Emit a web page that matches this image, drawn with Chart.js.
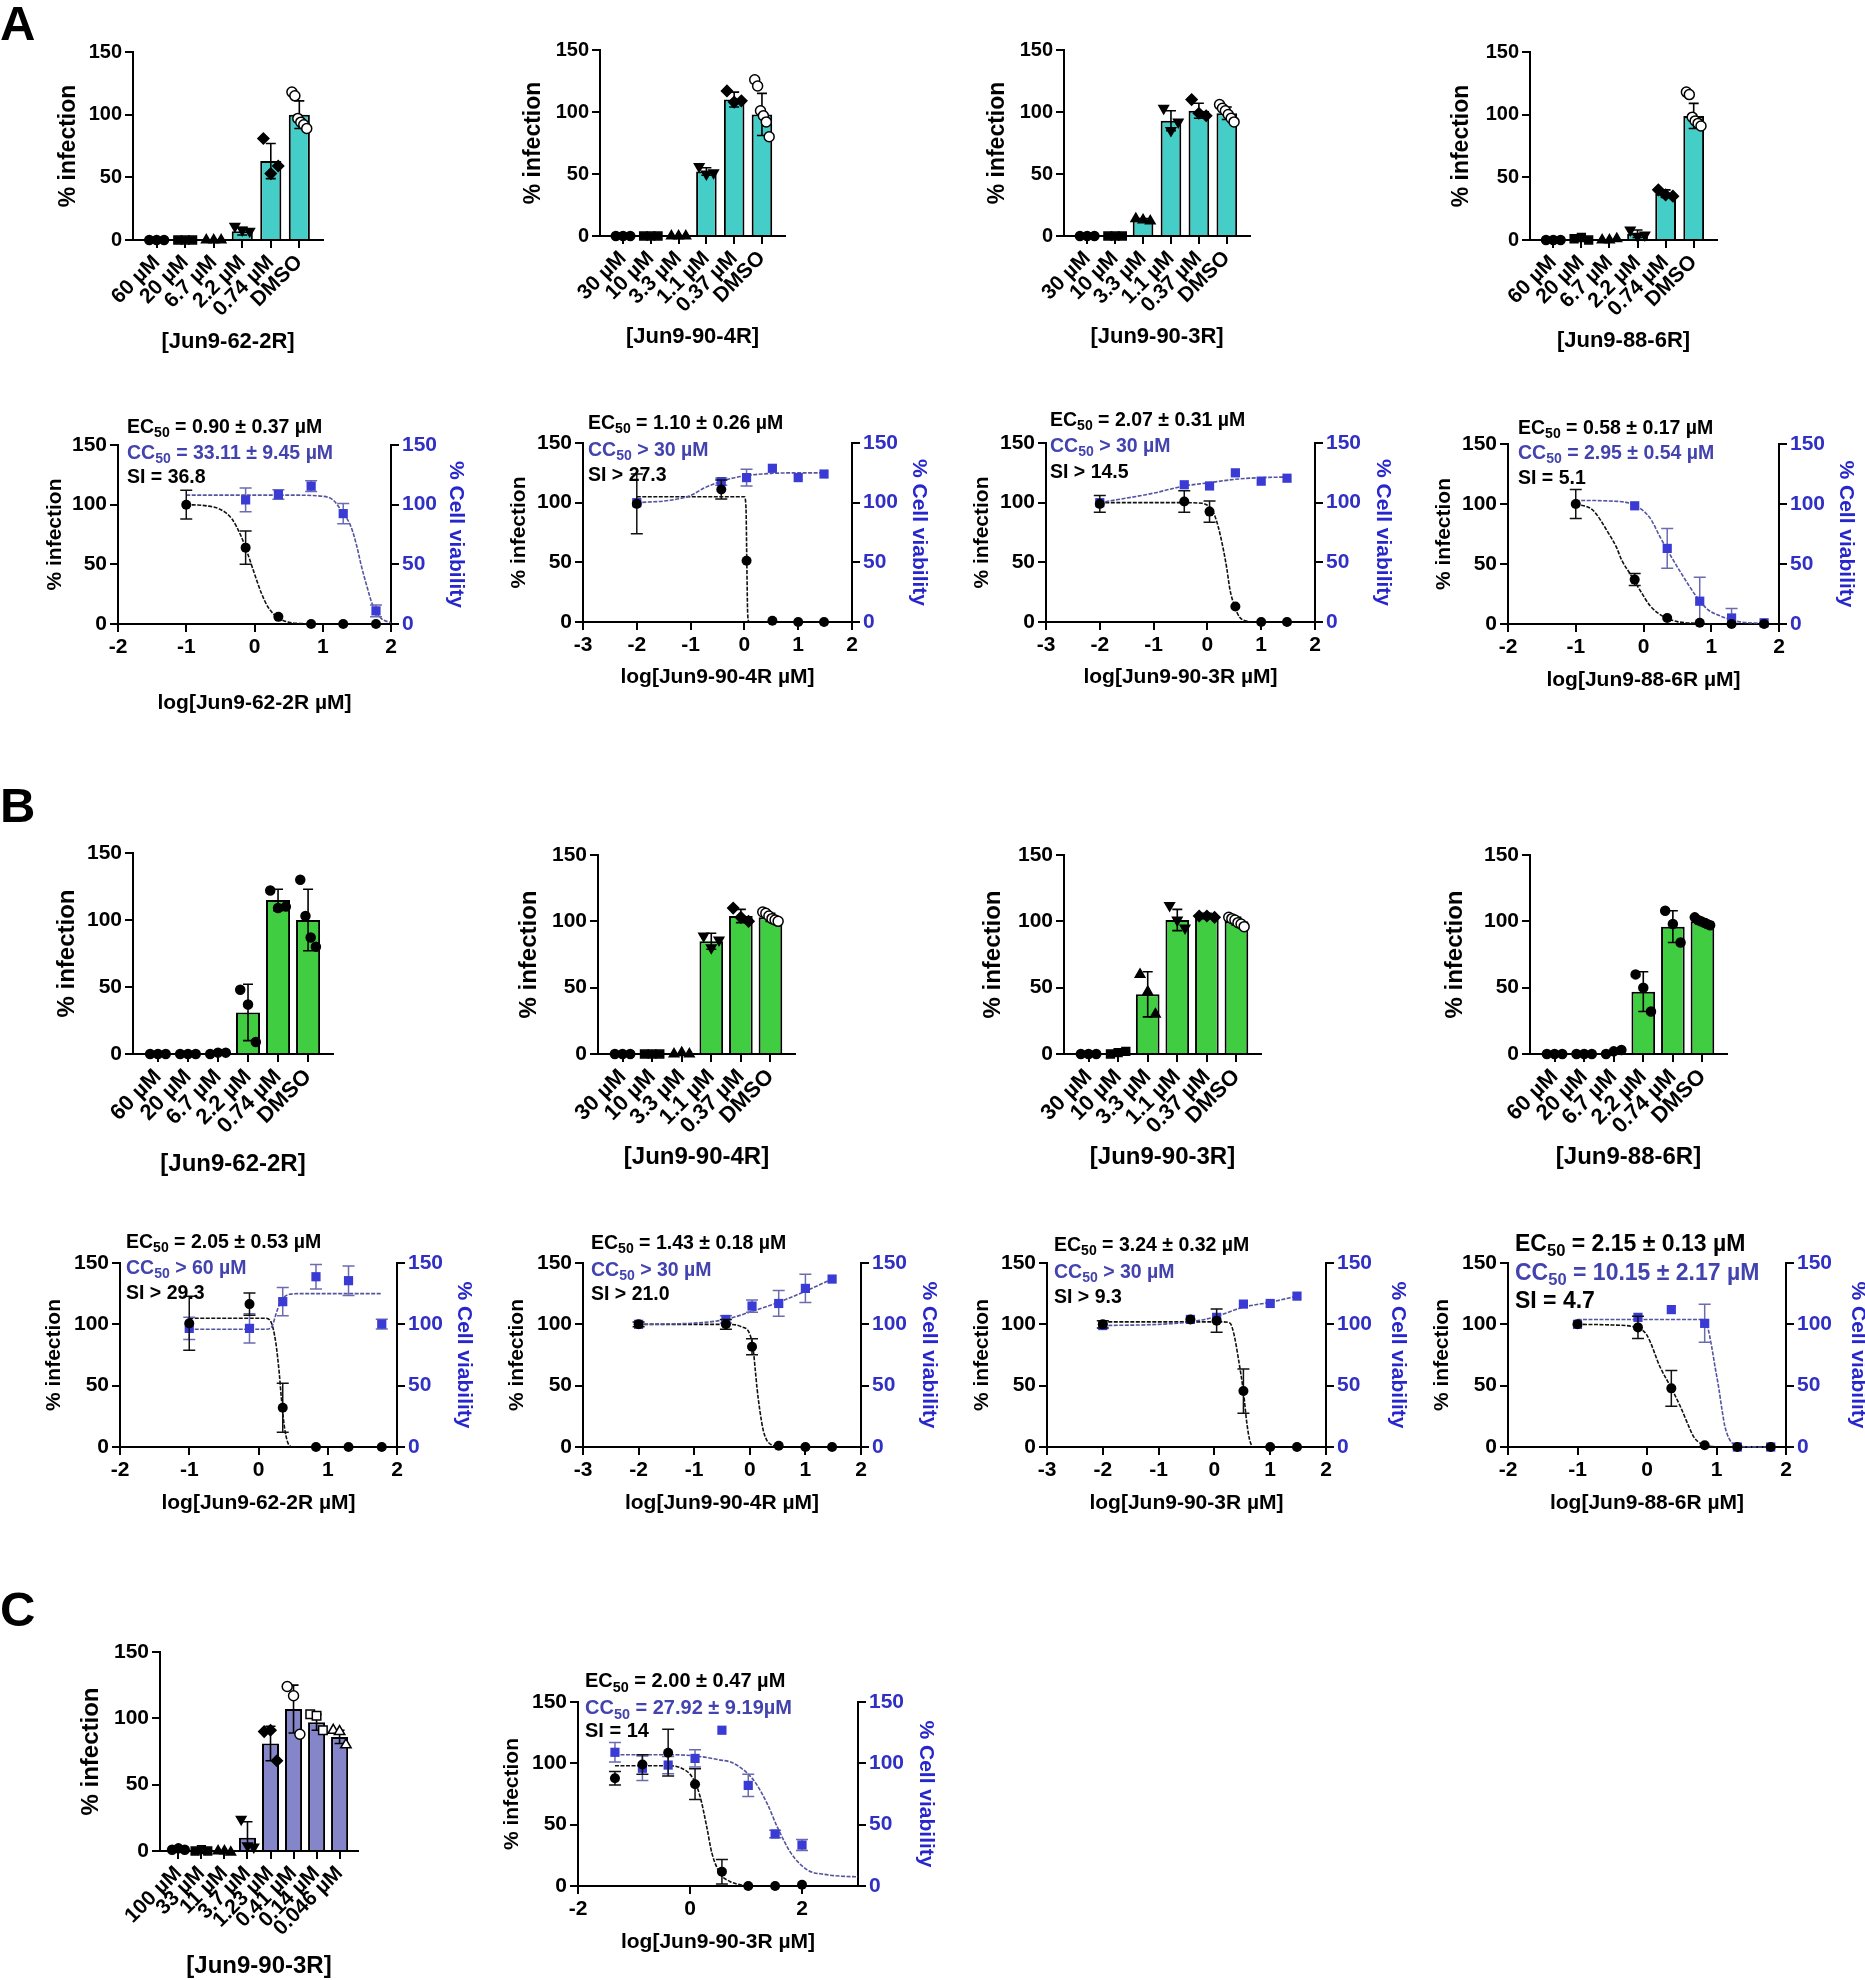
<!DOCTYPE html>
<html><head><meta charset="utf-8">
<script src="https://cdn.jsdelivr.net/npm/chart.js@4"></script>
<style>
body{margin:0;background:#fff;width:1865px;height:1980px;position:relative;overflow:hidden;font-family:"Liberation Sans",Arial,Helvetica,sans-serif;}
canvas{position:absolute;}
.t{position:absolute;white-space:nowrap;font-weight:bold;line-height:1;color:#000;}
.t.blue{color:#4343b0;}
.t sub{font-size:0.72em;vertical-align:-0.32em;line-height:0;}
.letter{position:absolute;font-weight:bold;font-size:49px;line-height:1;}
</style></head><body>
<script>
// ================= DATA =================
const catsA60 = ['60 µM','20 µM','6.7 µM','2.2 µM','0.74 µM','DMSO'];
const catsA30 = ['30 µM','10 µM','3.3 µM','1.1 µM','0.37 µM','DMSO'];
const catsC = ['100 µM','33 µM','11 µM','3.7 µM','1.23 µM','0.41 µM','0.14 µM','0.046 µM'];

const barTitles = ['[Jun9-62-2R]','[Jun9-90-4R]','[Jun9-90-3R]','[Jun9-88-6R]'];
const barTitleC = '[Jun9-90-3R]';
const doseTitles = ['log[Jun9-62-2R µM]','log[Jun9-90-4R µM]','log[Jun9-90-3R µM]','log[Jun9-88-6R µM]'];
const doseTitleC = 'log[Jun9-90-3R µM]';
const yTitleInf = '% infection';
const yTitleVia = '% Cell viability';
const panelLetters = ['A','B','C'];

// bar charts: means, SD, replicate points
const a1Mean = [0,0,0,7,63,100];
const a1Sd   = [0,0,0,3,14,11];
const a1Pts  = [[0,0,0],[0,0,0],[0,0,0],[11,8,7],[81,53,59],[118,115,97,94,92,89]];
const a2Mean = [0,0,0,52,110,98];
const a2Sd   = [0,0,0,3,6,17];
const a2Pts  = [[0,0,0],[0,0,0],[0,0,0],[56,50,51],[117,108,109],[126,121,101,97,92,80]];
const a3Mean = [0,0,13,93,101,99];
const a3Sd   = [0,0,1,8,6,5];
const a3Pts  = [[0,0,0],[0,0,0],[14,13,12],[103,85,92],[110,99,97],[106,103,101,98,95,92]];
const a4Mean = [0,0,0,5,37,99];
const a4Sd   = [0,0,0,3,3,10];
const a4Pts  = [[0,0,0],[1,2,0],[0,0,1],[8,3,4],[40,36,35],[118,116,98,95,93,91]];
const b1Mean = [0,0,0,31,115,100];
const b1Sd   = [0,0,0,21,8,23];
const b1Pts  = [[0,0,0],[0,0,0],[0,1,1],[48,37,9],[122,109,110],[130,103,87,80]];
const b2Mean = [0,0,0,85,104,103];
const b2Sd   = [0,0,0,6,5,3];
const b2Pts  = [[0,0,0],[0,0,0],[0,1,0],[89,80,86],[110,103,100],[107,106,104,102,101,100]];
const b3Mean = [0,1,45,101,104,100];
const b3Sd   = [0,0,17,8,2,3];
const b3Pts  = [[0,0,0],[0,1,2],[60,47,30],[112,101,95],[104,104,103],[103,102,101,99,98,96]];
const b4Mean = [0,0,1,47,96,100];
const b4Sd   = [0,0,1,15,12,2];
const b4Pts  = [[0,0,0],[0,0,0],[0,2,3],[60,50,32],[108,98,84],[103,101,100,99,98,97]];
const cMean  = [1,0.5,0,10,81,107,97,86];
const cSd    = [1,0.5,0,12,13,18,6,5];
const cPts   = [[1,2,1],[0,1,0],[0,0,-1],[24,4,3],[90,91,68],[124,117,88],[103,102,91],[91,90,80]];

const marksA = ['circle','square','tri','triDown','diamond','oCircle'];
const marksB1 = ['circle','circle','circle','circle','circle','circle'];
const marksC = ['circle','square','tri','triDown','diamond','oCircle','oSquare','oTri'];

// dose-response: log concentrations
const logA60 = [-1,-0.13,0.35,0.83,1.3,1.78];
const logA30 = [-2,-0.43,0.04,0.52,1.0,1.48];
const logA60via = [-0.13,0.35,0.83,1.3,1.78];
const logC = [-1.34,-0.85,-0.39,0.09,0.57,1.04,1.52,2.0];

const dA1InfY = [100,64,6,0,0,0];      const dA1InfSd = [12,14,0,0,0,0];
const dA1ViaY = [104,108.5,115.5,92.5,11]; const dA1ViaSd = [10,4,4.5,8.5,5];
const dA1InfCurve = [[-1,100],[-0.7,99],[-0.5,96],[-0.33,88],[-0.2,74],[-0.1,59],[0,42],[0.1,26],[0.2,14],[0.35,5],[0.5,1.5],[0.7,0.3],[0.9,0]];
const dA1ViaCurve = [[-1,108],[0.5,108],[1.0,107],[1.15,104],[1.26,96],[1.41,82],[1.5,65],[1.56,50],[1.65,31],[1.73,16],[1.85,5],[2.0,1]];

const dA2InfY = [99,111,51.4,1,0,0];   const dA2InfSd = [25,8,0,0,0,0];
const dA2ViaY = [100,117.6,121,128.8,121,124]; const dA2ViaSd = [0,3,7,0,0,0];
const dA2InfCurve = [[-2,105],[0,105],[0.03,95],[0.045,50],[0.06,8],[0.08,0]];
const dA2ViaCurve = [[-2,100],[-1.38,102],[-1,106],[-0.76,112],[-0.39,118.5],[0,122.5],[0.5,124.5],[1,125],[1.48,125]];

const dA3InfY = [99,101,92.5,13,0,0];  const dA3InfSd = [7,9,9,0,0,0];
const dA3ViaY = [100,115,114,125,118,120.5]; const dA3ViaSd = [0,0,0,0,0,0];
const dA3InfCurve = [[-2,100],[-0.5,100],[-0.1,99.5],[0.05,96],[0.11,92],[0.2,80],[0.3,60],[0.36,45],[0.42,27],[0.5,14],[0.6,4],[0.8,0]];
const dA3ViaCurve = [[-2,100],[-1,108],[-0.43,114],[0,116.5],[0.5,119.5],[1,121],[1.48,121.5]];

const dA4InfY = [100,37,5,1,0,0];      const dA4InfSd = [12,5,0,0,0,0];
const dA4ViaY = [98.5,63,19,5,1];     const dA4ViaSd = [0,16.5,20,8,0];
const dA4InfCurve = [[-1,100],[-0.75,95],[-0.52,76],[-0.4,64],[-0.32,53],[-0.2,42],[-0.05,28],[0.1,15],[0.3,6],[0.5,2],[0.8,0.5],[1.0,0]];
const dA4ViaCurve = [[-1,103],[-0.5,102.5],[-0.13,99],[0.1,88],[0.24,73],[0.4,57],[0.56,42],[0.78,23],[0.95,12],[1.12,7],[1.4,2],[1.78,0.5]];

const dB1InfY = [100.8,116.5,32,0,0,0]; const dB1InfSd = [22,9,20,0,0,0];
const dB1ViaY = [96.7,96.7,118.5,138.8,135.6,100.2]; const dB1ViaSd = [9,12,11.5,10,12,4];
const dB1InfCurve = [[-1,105],[0.1,105],[0.18,102],[0.25,85],[0.3,60],[0.33,40],[0.37,18],[0.42,4],[0.47,0]];
const dB1ViaCurve = [[-1,96],[0.12,96],[0.2,99],[0.25,108],[0.3,116],[0.35,121],[0.45,124.5],[0.6,125],[1.78,125]];

const dB2InfY = [100,100,81.7,1,0,0];  const dB2InfSd = [2,4,6.5,0,0,0];
const dB2ViaY = [100,104,114.9,117,129.3,136.9]; const dB2ViaSd = [0,3,5,10.5,11.5,0];
const dB2InfCurve = [[-2,100],[-0.4,100],[-0.15,98],[0,92],[0.06,80],[0.1,62],[0.13,48],[0.18,30],[0.24,14],[0.3,6],[0.4,1.5],[0.52,0.5]];
const dB2ViaCurve = [[-2,100],[-1,101],[-0.43,104],[0,110],[0.52,118],[1,127],[1.48,137]];

const dB3InfY = [100,104,103,45.6,0,0]; const dB3InfSd = [3,0,9.5,18,0,0];
const dB3ViaY = [99,104,105.7,116.5,117,123]; const dB3ViaSd = [0,0,0,0,0,0];
const dB3InfCurve = [[-2,102],[0.15,102],[0.28,101],[0.35,92],[0.43,72],[0.52,45],[0.58,20],[0.63,6],[0.68,0]];
const dB3ViaCurve = [[-2,99],[-1,100],[-0.43,102],[0,106],[0.52,114],[1,118],[1.48,123]];

const dB4InfY = [100,97.5,47.8,1.4,0,0]; const dB4InfSd = [0,9,14.5,0,0,0];
const dB4ViaY = [100,105.7,112,100.8,0,0]; const dB4ViaSd = [0,0,0,15.5,0,0];
const dB4InfCurve = [[-1,100],[-0.5,99.5],[-0.13,97],[0,91],[0.19,65],[0.35,48],[0.48,33],[0.6,17],[0.67,8.5],[0.8,2],[1.0,0]];
const dB4ViaCurve = [[-1,104],[0.8,104],[0.87,98],[0.93,82],[0.98,65],[1.03,49],[1.08,30],[1.12,17],[1.18,7],[1.25,2],[1.35,0.3],[1.78,0]];

const dCInfY = [87.8,99,108.7,83,11.7,0,0,1]; const dCInfSd = [5.5,8,19,12.5,10,0,0,0];
const dCViaY = [109,96,98.6,104,127,82,42.4,33.4]; const dCViaSd = [8,10,7,7,0,9,3,4.5];
const dCInfCurve = [[-1.34,98],[-0.4,98],[-0.15,96],[0.05,88],[0.18,73],[0.3,48],[0.39,27],[0.54,10],[0.7,4],[0.9,1],[1.1,0]];
const dCViaCurve = [[-1.34,107],[-0.4,107],[0.1,106],[0.5,103],[0.78,100],[1.14,86],[1.38,67],[1.56,48],[1.8,27],[2.1,13],[2.4,9.5],[2.7,8],[3.0,7.5]];

// annotation texts
const annA1 = ['EC50 = 0.90 ± 0.37 µM','CC50 = 33.11 ± 9.45 µM','SI = 36.8'];
const annA2 = ['EC50 = 1.10 ± 0.26 µM','CC50 > 30 µM','SI > 27.3'];
const annA3 = ['EC50 = 2.07 ± 0.31 µM','CC50 > 30 µM','SI > 14.5'];
const annA4 = ['EC50 = 0.58 ± 0.17 µM','CC50 = 2.95 ± 0.54 µM','SI = 5.1'];
const annB1 = ['EC50 = 2.05 ± 0.53 µM','CC50 > 60 µM','SI > 29.3'];
const annB2 = ['EC50 = 1.43 ± 0.18 µM','CC50 > 30 µM','SI > 21.0'];
const annB3 = ['EC50 = 3.24 ± 0.32 µM','CC50 > 30 µM','SI > 9.3'];
const annB4 = ['EC50 = 2.15 ± 0.13 µM','CC50 = 10.15 ± 2.17 µM','SI = 4.7'];
const annC  = ['EC50 = 2.00 ± 0.47 µM','CC50 = 27.92 ± 9.19µM','SI = 14'];

// ================= STYLE / HELPERS =================
const FONT = '"Liberation Sans", Arial, Helvetica, sans-serif';
const COL_A = '#45cdc8', COL_B = '#41cd41', COL_C = '#8585c9';
const BLUE_PT = '#3a3ad4', BLUE_TICK = '#3030c4', BLUE_TITLE = '#2626cc', BLUE_CURVE = '#55559f';
Chart.defaults.font.family = FONT;
Chart.defaults.font.weight = 'bold';
Chart.defaults.color = '#000';

const MK = {
  circle:{s:'circle',f:'#000',r:4.5,rot:0},
  square:{s:'rect',f:'#000',r:5.5,rot:0},
  tri:{s:'triangle',f:'#000',r:5.5,rot:0},
  triDown:{s:'triangle',f:'#000',r:5.5,rot:180},
  diamond:{s:'rectRot',f:'#000',r:5.5,rot:0},
  oCircle:{s:'circle',f:'#fff',r:5,rot:0},
  oSquare:{s:'rect',f:'#fff',r:6,rot:0},
  oTri:{s:'triangle',f:'#fff',r:6,rot:0}
};

const errPlugin = {
  id:'errbars',
  beforeDatasetDraw(chart, args) {
    const ds = chart.data.datasets[args.index];
    if (!ds.errBars) return;
    const xs = chart.scales.x, ys = chart.scales[ds.yAxisID || 'y'];
    const ctx = chart.ctx;
    ctx.save();
    ctx.strokeStyle = ds.errColor || '#000';
    ctx.lineWidth = ds.errWidth || 1.6;
    const c = ds.capHalf || 5;
    ds.errBars.forEach(b => {
      if (!b.e) return;
      const px = xs.getPixelForValue(b.x);
      const top = ys.getPixelForValue(b.y + b.e);
      const lo = Math.max(b.y - b.e, 0);
      const bot = ys.getPixelForValue(lo);
      ctx.beginPath();
      ctx.moveTo(px, top); ctx.lineTo(px, bot);
      ctx.moveTo(px - c, top); ctx.lineTo(px + c, top);
      if (lo > 0) { ctx.moveTo(px - c, bot); ctx.lineTo(px + c, bot); }
      ctx.stroke();
    });
    ctx.restore();
  }
};
Chart.register(errPlugin);

function mkCanvas(x, y, w, h) {
  const c = document.createElement('canvas');
  c.width = w; c.height = h;
  c.style.left = x + 'px'; c.style.top = y + 'px';
  c.style.width = w + 'px'; c.style.height = h + 'px';
  document.body.appendChild(c);
  return c;
}
function fnt(size){ return {family:FONT, size:size, weight:'bold'}; }
function gridOpts(){ return {drawOnChartArea:false, drawTicks:true, tickLength:8, color:'#000', lineWidth:2, offset:false}; }
function borderOpts(){ return {display:true, color:'#000', width:2}; }

function barChart(g, cats, mean, sd, pts, marks, color, title) {
  const lhY = g.yts * 1.2, lhX = g.xts * 1.2;
  const WL = Math.round(g.L - g.lt + lhY / 2);
  const HB = Math.round(g.bt + lhX / 2 - g.B);
  const padT = 16, padR = 12;
  const W = WL + (g.R - g.L) + padR, H = padT + (g.B - g.T) + HB;
  const cv = mkCanvas(g.L - WL, g.T - padT, W, H);
  const n = cats.length;
  const sData = [], sStyle = [], sFill = [], sRad = [], sRot = [];
  pts.forEach((arr, i) => {
    const m = MK[marks[i]];
    arr.forEach((v, j) => {
      const off = arr.length > 1 ? (j / (arr.length - 1) - 0.5) * g.spread : 0;
      sData.push({x: i + off, y: v}); sStyle.push(m.s); sFill.push(m.f); sRad.push(m.r); sRot.push(m.rot);
    });
  });
  new Chart(cv, {
    type: 'bar',
    data: {datasets: [
      {type:'bar', data: mean.map((v, i) => ({x: i, y: v})), backgroundColor: color, borderColor: '#000',
       borderWidth: 2, borderSkipped: 'start', barPercentage: g.bp, categoryPercentage: 1, order: 2},
      {type:'scatter', data: sData, pointStyle: sStyle, pointBackgroundColor: sFill, pointBorderColor: '#000',
       pointBorderWidth: 1.5, pointRadius: sRad, pointRotation: sRot, order: 1, clip: false,
       errBars: mean.map((v, i) => ({x: i, y: v, e: sd[i]})), capHalf: 5, errWidth: 1.6}
    ]},
    options: {
      responsive: false, animation: false,
      layout: {padding: {top: padT, right: padR, left: 0, bottom: 0}},
      plugins: {legend: {display: false}, tooltip: {enabled: false}},
      scales: {
        x: {type: 'linear', offset: false, min: -g.gap, max: n - 1 + g.gap,
            afterBuildTicks: s => { s.ticks = cats.map((c, i) => ({value: i})); },
            ticks: {callback: v => cats[v], minRotation: 45, maxRotation: 45, autoSkip: false,
                    font: fnt(g.lab), color: '#000', padding: 2},
            grid: gridOpts(), border: borderOpts(),
            title: {display: true, text: title, font: fnt(g.xts), color: '#000', padding: 0},
            afterFit: s => { s.height = HB; }},
        y: {type: 'linear', min: 0, max: 150,
            ticks: {stepSize: 50, font: fnt(g.ytick), color: '#000', padding: 3},
            grid: gridOpts(), border: borderOpts(),
            title: {display: true, text: yTitleInf, font: fnt(g.yts), color: '#000', padding: 0},
            afterFit: s => { s.width = WL; }}
      }
    }
  });
}

function doseChart(g, title, infX, infY, infSd, viaX, viaY, viaSd, infCurve, viaCurve) {
  const lh = g.tts * 1.2;
  const WL = Math.round(g.L - g.lt + lh / 2);
  const WR = Math.round(g.rt + lh / 2 - g.R);
  const HB = Math.round(g.bt + lh / 2 - g.B);
  const padT = 16;
  const W = WL + (g.R - g.L) + WR, H = padT + (g.B - g.T) + HB;
  const cv = mkCanvas(g.L - WL, g.T - padT, W, H);
  new Chart(cv, {
    type: 'scatter',
    data: {datasets: [
      {data: infCurve.map(p => ({x: p[0], y: p[1]})), showLine: true, borderColor: '#111', borderWidth: 1.6,
       borderDash: [4, 1.5], pointRadius: 0, cubicInterpolationMode: 'monotone', yAxisID: 'y', clip: false, order: 4},
      {data: viaCurve.map(p => ({x: p[0], y: p[1]})), showLine: true, borderColor: BLUE_CURVE, borderWidth: 1.6,
       borderDash: [4, 1.5], pointRadius: 0, cubicInterpolationMode: 'monotone', yAxisID: 'y2', clip: false, order: 3},
      {data: viaX.map((x, i) => ({x: x, y: viaY[i]})), pointStyle: 'rect', pointRadius: 6.5,
       pointBackgroundColor: BLUE_PT, pointBorderColor: BLUE_PT, pointBorderWidth: 0, yAxisID: 'y2', clip: false, order: 2,
       errBars: viaX.map((x, i) => ({x: x, y: viaY[i], e: viaSd[i]})), errColor: '#6b6bb0', capHalf: 6, errWidth: 1.5},
      {data: infX.map((x, i) => ({x: x, y: infY[i]})), pointStyle: 'circle', pointRadius: 5,
       pointBackgroundColor: '#000', pointBorderColor: '#000', pointBorderWidth: 0, yAxisID: 'y', clip: false, order: 1,
       errBars: infX.map((x, i) => ({x: x, y: infY[i], e: infSd[i]})), errColor: '#111', capHalf: 6, errWidth: 1.5}
    ]},
    options: {
      responsive: false, animation: false,
      layout: {padding: {top: padT, right: 0, left: 0, bottom: 0}},
      plugins: {legend: {display: false}, tooltip: {enabled: false}},
      scales: {
        x: {type: 'linear', min: g.xmin, max: g.xmax,
            ticks: {stepSize: g.step, includeBounds: false, font: fnt(g.tick), color: '#000', padding: 3},
            grid: gridOpts(), border: borderOpts(),
            title: {display: true, text: title, font: fnt(g.tts), color: '#000', padding: 0},
            afterFit: s => { s.height = HB; }},
        y: {type: 'linear', position: 'left', min: 0, max: 150,
            ticks: {stepSize: 50, font: fnt(g.tick), color: '#000', padding: 3},
            grid: gridOpts(), border: borderOpts(),
            title: {display: true, text: yTitleInf, font: fnt(g.tts), color: '#000', padding: 0},
            afterFit: s => { s.width = WL; }},
        y2: {type: 'linear', position: 'right', min: 0, max: 150,
            ticks: {stepSize: 50, font: fnt(g.tick), color: BLUE_TICK, padding: 3},
            grid: gridOpts(), border: borderOpts(),
            title: {display: true, text: yTitleVia, font: fnt(g.tts), color: BLUE_TITLE, padding: 0},
            afterFit: s => { s.width = WR; }}
      }
    }
  });
}

function addText(x, yc, text, size, cls) {
  const d = document.createElement('div');
  d.className = 't' + (cls ? ' ' + cls : '');
  d.style.left = x + 'px';
  d.style.top = (yc - size * 0.49) + 'px';
  d.style.fontSize = size + 'px';
  d.innerHTML = text.replace(/^(EC|CC)50/, '$1<sub>50</sub>');
  document.body.appendChild(d);
}
function annot(x, ys, lines, size) {
  addText(x, ys[0], lines[0], size, '');
  addText(x, ys[1], lines[1], size, 'blue');
  addText(x, ys[2], lines[2], size, '');
}
function letter(txt, x, y) {
  const d = document.createElement('div');
  d.className = 'letter'; d.style.left = x + 'px'; d.style.top = y + 'px';
  d.textContent = txt; document.body.appendChild(d);
}

// ================= LAYOUT =================
letter(panelLetters[0], 0, -1);
letter(panelLetters[1], 0, 781);
letter(panelLetters[2], 0, 1585);

const bA = {yts: 23, xts: 22, ytick: 20, lab: 21, gap: 0.83, spread: 0.52, bp: 0.74};
const bB = {yts: 24, xts: 24, ytick: 21, lab: 22, gap: 0.83, spread: 0.52, bp: 0.8};
barChart(Object.assign({}, bA, {L:133, T:52, R:323, B:240, lt:69, bt:342}), catsA60, a1Mean, a1Sd, a1Pts, marksA, COL_A, barTitles[0]);
barChart(Object.assign({}, bA, {L:600, T:50, R:785, B:236, lt:534, bt:337}), catsA30, a2Mean, a2Sd, a2Pts, marksA, COL_A, barTitles[1]);
barChart(Object.assign({}, bA, {L:1064, T:50, R:1250, B:236, lt:998, bt:337}), catsA30, a3Mean, a3Sd, a3Pts, marksA, COL_A, barTitles[2]);
barChart(Object.assign({}, bA, {L:1530, T:52, R:1717, B:240, lt:1462, bt:341}), catsA60, a4Mean, a4Sd, a4Pts, marksA, COL_A, barTitles[3]);
barChart(Object.assign({}, bB, {L:133, T:853, R:333, B:1054, lt:67, bt:1165}), catsA60, b1Mean, b1Sd, b1Pts, marksB1, COL_B, barTitles[0]);
barChart(Object.assign({}, bB, {L:598, T:855, R:795, B:1054, lt:529, bt:1158}), catsA30, b2Mean, b2Sd, b2Pts, marksA, COL_B, barTitles[1]);
barChart(Object.assign({}, bB, {L:1064, T:855, R:1261, B:1054, lt:993, bt:1158}), catsA30, b3Mean, b3Sd, b3Pts, marksA, COL_B, barTitles[2]);
barChart(Object.assign({}, bB, {L:1530, T:855, R:1727, B:1054, lt:1455, bt:1158}), catsA60, b4Mean, b4Sd, b4Pts, marksB1, COL_B, barTitles[3]);
barChart(Object.assign({}, bB, {L:160, T:1652, R:358, B:1851, lt:91, bt:1967, gap: 0.8, spread: 0.55, bp: 0.74, lab: 21}), catsC, cMean, cSd, cPts, marksC, COL_C, barTitleC);

const dc = {tts: 21, tick: 21, step: 1};
doseChart(Object.assign({}, dc, {L:118, T:445, R:391, B:624, xmin:-2, xmax:2, lt:56, rt:455, bt:703}), doseTitles[0],
  logA60, dA1InfY, dA1InfSd, logA60via, dA1ViaY, dA1ViaSd, dA1InfCurve, dA1ViaCurve);
doseChart(Object.assign({}, dc, {L:583, T:443, R:852, B:622, xmin:-3, xmax:2, lt:520, rt:918, bt:677}), doseTitles[1],
  logA30, dA2InfY, dA2InfSd, logA30, dA2ViaY, dA2ViaSd, dA2InfCurve, dA2ViaCurve);
doseChart(Object.assign({}, dc, {L:1046, T:443, R:1315, B:622, xmin:-3, xmax:2, lt:983, rt:1382, bt:677}), doseTitles[2],
  logA30, dA3InfY, dA3InfSd, logA30, dA3ViaY, dA3ViaSd, dA3InfCurve, dA3ViaCurve);
doseChart(Object.assign({}, dc, {L:1508, T:444, R:1779, B:624, xmin:-2, xmax:2, lt:1445, rt:1845, bt:680}), doseTitles[3],
  logA60, dA4InfY, dA4InfSd, logA60via, dA4ViaY, dA4ViaSd, dA4InfCurve, dA4ViaCurve);
doseChart(Object.assign({}, dc, {L:120, T:1263, R:397, B:1447, xmin:-2, xmax:2, lt:55, rt:463, bt:1503}), doseTitles[0],
  logA60, dB1InfY, dB1InfSd, logA60, dB1ViaY, dB1ViaSd, dB1InfCurve, dB1ViaCurve);
doseChart(Object.assign({}, dc, {L:583, T:1263, R:861, B:1447, xmin:-3, xmax:2, lt:518, rt:928, bt:1503}), doseTitles[1],
  logA30, dB2InfY, dB2InfSd, logA30, dB2ViaY, dB2ViaSd, dB2InfCurve, dB2ViaCurve);
doseChart(Object.assign({}, dc, {L:1047, T:1263, R:1326, B:1447, xmin:-3, xmax:2, lt:983, rt:1397, bt:1503}), doseTitles[2],
  logA30, dB3InfY, dB3InfSd, logA30, dB3ViaY, dB3ViaSd, dB3InfCurve, dB3ViaCurve);
doseChart(Object.assign({}, dc, {L:1508, T:1263, R:1786, B:1447, xmin:-2, xmax:2, lt:1443, rt:1857, bt:1503}), doseTitles[3],
  logA60, dB4InfY, dB4InfSd, logA60, dB4ViaY, dB4ViaSd, dB4InfCurve, dB4ViaCurve);
doseChart(Object.assign({}, dc, {L:578, T:1702, R:858, B:1886, xmin:-2, xmax:3, step:2, lt:513, rt:925, bt:1942}), doseTitleC,
  logC, dCInfY, dCInfSd, logC, dCViaY, dCViaSd, dCInfCurve, dCViaCurve);

annot(127, [427,453,477], annA1, 19.5);
annot(588, [423,450,475], annA2, 19.5);
annot(1050, [420,446,472], annA3, 19.5);
annot(1518, [428,453,478], annA4, 19.5);
annot(126, [1242,1268,1293], annB1, 19.5);
annot(591, [1243,1270,1294], annB2, 19.5);
annot(1054, [1245,1272,1297], annB3, 19.5);
annot(1515, [1243,1272,1300], annB4, 23);
annot(585, [1680,1707,1730], annC, 20);
</script>
</body></html>
